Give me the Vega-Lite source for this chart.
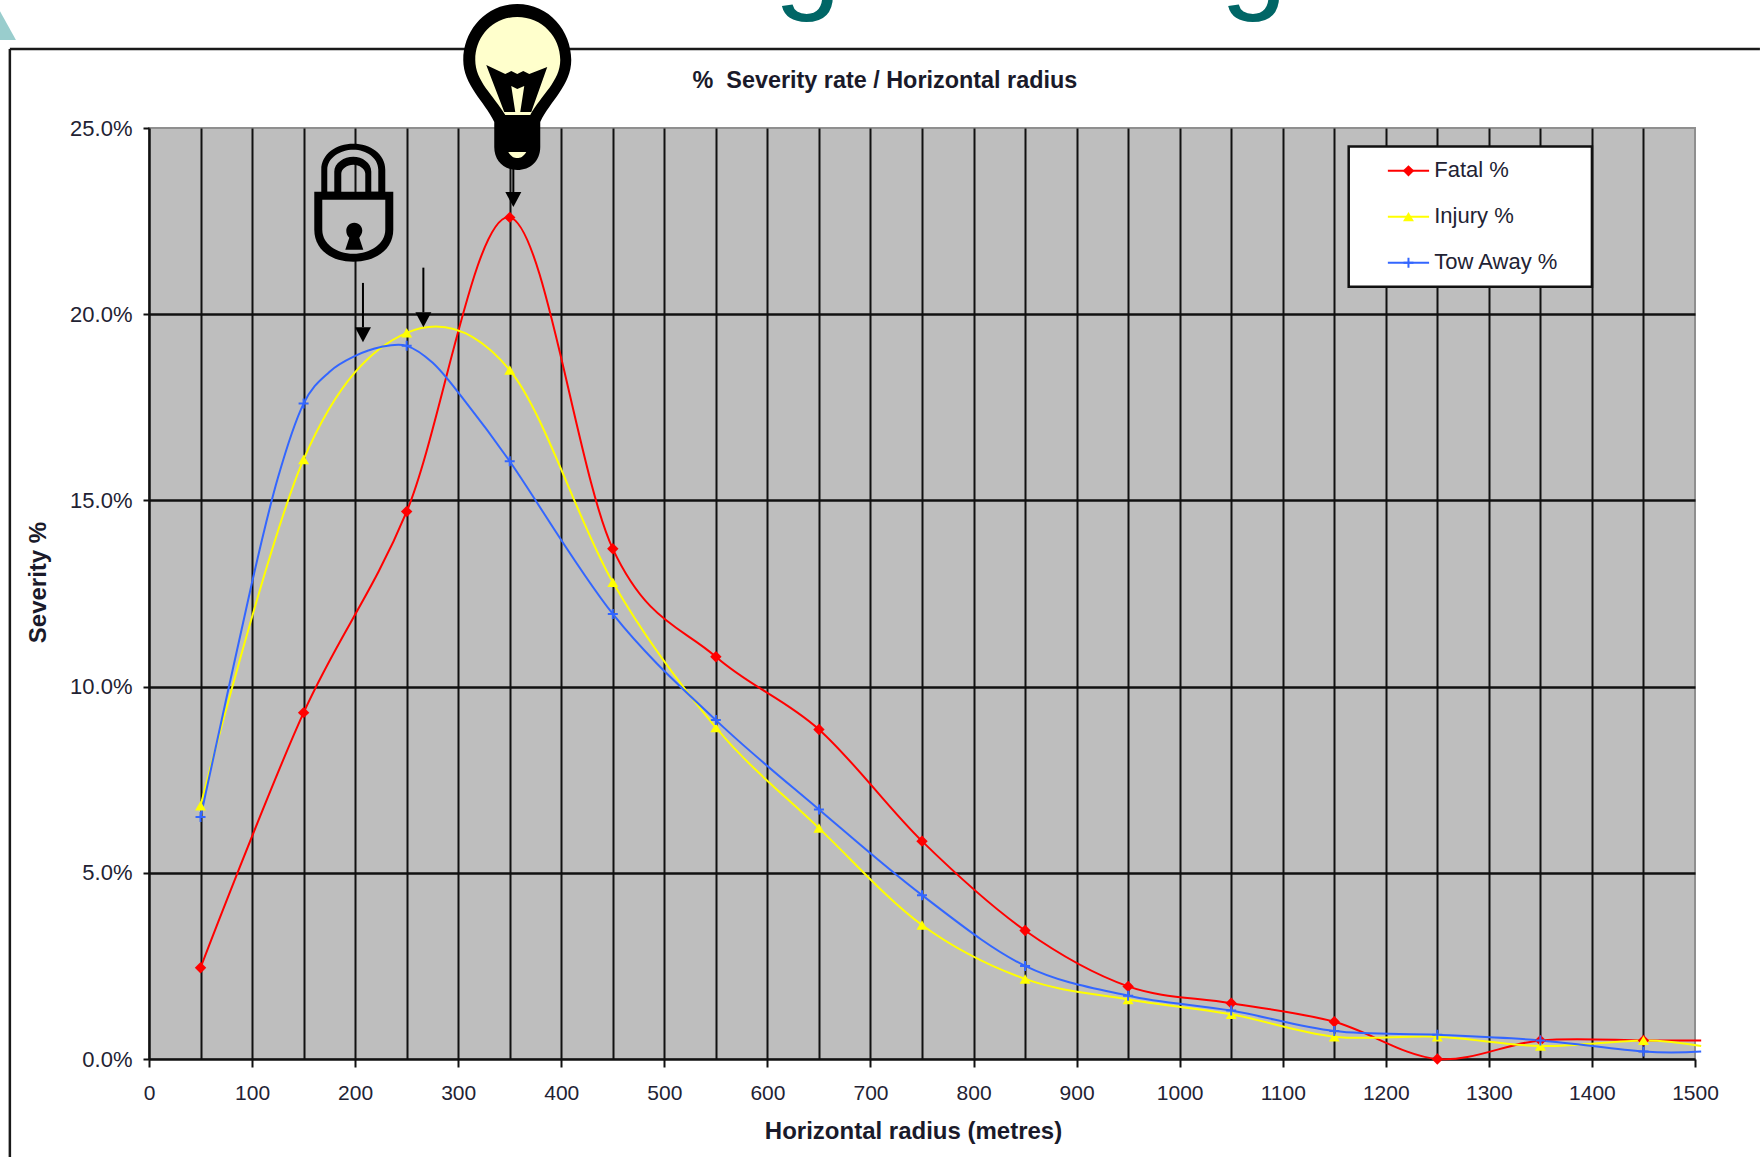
{
  "$schema": "https://vega.github.io/schema/vega-lite/v6.json",
  "autosize": "none",
  "width": 1546,
  "height": 931,
  "padding": {"left": 149, "top": 128, "right": 65, "bottom": 98},
  "background": "#ffffff",
  "config": {
    "view": {"fill": "#bebebe", "stroke": "#8f8f8f", "strokeWidth": 2},
    "text": {"font": "Liberation Sans"}
  },
  "datasets": {
    "severity": [
      {"radius": 50, "severity": 0.0245, "series": "Fatal %"},
      {"radius": 150, "severity": 0.093, "series": "Fatal %"},
      {"radius": 250, "severity": 0.147, "series": "Fatal %"},
      {"radius": 350, "severity": 0.226, "series": "Fatal %"},
      {"radius": 450, "severity": 0.137, "series": "Fatal %"},
      {"radius": 550, "severity": 0.108, "series": "Fatal %"},
      {"radius": 650, "severity": 0.0885, "series": "Fatal %"},
      {"radius": 750, "severity": 0.0585, "series": "Fatal %"},
      {"radius": 850, "severity": 0.0345, "series": "Fatal %"},
      {"radius": 950, "severity": 0.0195, "series": "Fatal %"},
      {"radius": 1050, "severity": 0.015, "series": "Fatal %"},
      {"radius": 1150, "severity": 0.01, "series": "Fatal %"},
      {"radius": 1250, "severity": 0.0, "series": "Fatal %"},
      {"radius": 1350, "severity": 0.005, "series": "Fatal %"},
      {"radius": 1450, "severity": 0.005, "series": "Fatal %"},
      {"radius": 1506, "severity": 0.005, "series": "Fatal %"},
      {"radius": 50, "severity": 0.068, "series": "Injury %"},
      {"radius": 150, "severity": 0.161, "series": "Injury %"},
      {"radius": 250, "severity": 0.195, "series": "Injury %"},
      {"radius": 350, "severity": 0.185, "series": "Injury %"},
      {"radius": 450, "severity": 0.128, "series": "Injury %"},
      {"radius": 550, "severity": 0.089, "series": "Injury %"},
      {"radius": 650, "severity": 0.062, "series": "Injury %"},
      {"radius": 750, "severity": 0.036, "series": "Injury %"},
      {"radius": 850, "severity": 0.0215, "series": "Injury %"},
      {"radius": 950, "severity": 0.016, "series": "Injury %"},
      {"radius": 1050, "severity": 0.012, "series": "Injury %"},
      {"radius": 1150, "severity": 0.006, "series": "Injury %"},
      {"radius": 1250, "severity": 0.006, "series": "Injury %"},
      {"radius": 1350, "severity": 0.0035, "series": "Injury %"},
      {"radius": 1450, "severity": 0.005, "series": "Injury %"},
      {"radius": 1506, "severity": 0.0035, "series": "Injury %"},
      {"radius": 50, "severity": 0.065, "series": "Tow Away %"},
      {"radius": 100, "severity": 0.128, "series": "Tow Away %"},
      {"radius": 125, "severity": 0.156, "series": "Tow Away %"},
      {"radius": 150, "severity": 0.176, "series": "Tow Away %"},
      {"radius": 175, "severity": 0.1845, "series": "Tow Away %"},
      {"radius": 200, "severity": 0.1888, "series": "Tow Away %"},
      {"radius": 225, "severity": 0.1912, "series": "Tow Away %"},
      {"radius": 250, "severity": 0.1915, "series": "Tow Away %"},
      {"radius": 275, "severity": 0.187, "series": "Tow Away %"},
      {"radius": 300, "severity": 0.179, "series": "Tow Away %"},
      {"radius": 350, "severity": 0.1605, "series": "Tow Away %"},
      {"radius": 450, "severity": 0.1195, "series": "Tow Away %"},
      {"radius": 550, "severity": 0.091, "series": "Tow Away %"},
      {"radius": 650, "severity": 0.067, "series": "Tow Away %"},
      {"radius": 750, "severity": 0.044, "series": "Tow Away %"},
      {"radius": 850, "severity": 0.025, "series": "Tow Away %"},
      {"radius": 950, "severity": 0.017, "series": "Tow Away %"},
      {"radius": 1050, "severity": 0.013, "series": "Tow Away %"},
      {"radius": 1150, "severity": 0.0075, "series": "Tow Away %"},
      {"radius": 1250, "severity": 0.0065, "series": "Tow Away %"},
      {"radius": 1350, "severity": 0.005, "series": "Tow Away %"},
      {"radius": 1450, "severity": 0.002, "series": "Tow Away %"},
      {"radius": 1506, "severity": 0.002, "series": "Tow Away %"}
    ],
    "arrows": [
      {"radius": 207.6, "radius2": 207.6, "severity": 0.2084, "severity2": 0.1965},
      {"radius": 266.2, "radius2": 266.2, "severity": 0.2125, "severity2": 0.2005},
      {"radius": 353.5, "radius2": 353.5, "severity": 0.2390, "severity2": 0.2310}
    ],
    "arrowTips": [
      {"radius": 207.6, "severity": 0.1925},
      {"radius": 266.2, "severity": 0.1965},
      {"radius": 353.5, "severity": 0.2288}
    ],
    "bulb": [{"radius": 357.3, "severity": 0.261}],
    "lock": [{"radius": 198.2, "severity": 0.2302}],
    "legendBox": [{"radius": 1164, "radius2": 1400, "severity": 0.245, "severity2": 0.2074}],
    "legendRows": [
      {"radius": 1202, "radius2": 1242, "mid": 1222, "text": 1247, "severity": 0.2385, "series": "Fatal %"},
      {"radius": 1202, "radius2": 1242, "mid": 1222, "text": 1247, "severity": 0.2262, "series": "Injury %"},
      {"radius": 1202, "radius2": 1242, "mid": 1222, "text": 1247, "severity": 0.2138, "series": "Tow Away %"}
    ],
    "sheetFrameTop": [{"radius": -135, "radius2": 1563, "severity": 0.2712}],
    "sheetFrameLeft": [{"radius": -135, "severity": 0.2712, "severity2": -0.0263}],
    "cornerMark": [{"radius": -144.6, "severity": 0.2736}],
    "headingGlyphs": [
      {"radius": 639, "severity": 0.2852, "glyph": "g"},
      {"radius": 1072, "severity": 0.2852, "glyph": "g"}
    ],
    "chartHeading": [{"radius": 714, "severity": 0.2626, "label": "%\u00a0 Severity rate / Horizontal radius"}]
  },
  "encoding": {
    "x": {
      "field": "radius",
      "type": "quantitative",
      "scale": {"domain": [0, 1500], "nice": false, "zero": false},
      "axis": {
        "title": "Horizontal radius (metres)",
        "titleFont": "Liberation Sans",
        "titleFontSize": 24,
        "titleFontWeight": "bold",
        "titleColor": "#1a1a2a",
        "titleX": 764,
        "titleY": 60,
        "titleAlign": "center",
        "values": [0, 50, 100, 150, 200, 250, 300, 350, 400, 450, 500, 550, 600, 650, 700, 750, 800, 850, 900, 950, 1000, 1050, 1100, 1150, 1200, 1250, 1300, 1350, 1400, 1450, 1500],
        "format": "d",
        "labelExpr": "datum.value % 100 === 0 ? datum.label : ''",
        "labelOverlap": false,
        "labelFont": "Liberation Sans",
        "labelFontSize": 21,
        "labelColor": "#222233",
        "labelPadding": 15,
        "labelFlush": false,
        "grid": true,
        "gridColor": "#111111",
        "gridWidth": 2,
        "gridOpacity": {"expr": "datum.value > 0 && datum.value < 1500 ? 1 : 0"},
        "domainColor": "#111111",
        "domainWidth": 2.5,
        "tickColor": "#111111",
        "tickWidth": 2,
        "tickSize": 8,
        "tickOpacity": {"expr": "datum.value % 100 === 0 ? 1 : 0"}
      }
    },
    "y": {
      "field": "severity",
      "type": "quantitative",
      "scale": {"domain": [0, 0.25], "nice": false, "zero": false},
      "axis": {
        "title": "Severity %",
        "titleFont": "Liberation Sans",
        "titleFontSize": 24,
        "titleFontWeight": "bold",
        "titleColor": "#1a1a2a",
        "titleX": -99,
        "titleY": 454,
        "titleAlign": "center",
        "values": [0, 0.05, 0.1, 0.15, 0.2, 0.25],
        "format": ".1%",
        "labelFont": "Liberation Sans",
        "labelFontSize": 22,
        "labelColor": "#222233",
        "labelPadding": 11,
        "grid": true,
        "gridColor": "#111111",
        "gridWidth": 2.5,
        "gridOpacity": {"expr": "datum.value > 0 && datum.value < 0.25 ? 1 : 0"},
        "domainColor": "#111111",
        "domainWidth": 2.5,
        "tickColor": "#111111",
        "tickWidth": 2,
        "tickSize": 6
      }
    }
  },
  "layer": [
    {
      "data": {"name": "sheetFrameTop"},
      "mark": {"type": "rule", "color": "#1a1a1a", "strokeWidth": 2.5},
      "encoding": {"x2": {"field": "radius2"}}
    },
    {
      "data": {"name": "sheetFrameLeft"},
      "mark": {"type": "rule", "color": "#1a1a1a", "strokeWidth": 2.5},
      "encoding": {"y2": {"field": "severity2"}}
    },
    {
      "data": {"name": "cornerMark"},
      "mark": {"type": "point", "filled": true, "opacity": 1, "size": 4, "color": "#99cdcd", "shape": "M0,0 L16,0 L0,-29 Z"}
    },
    {
      "data": {"name": "headingGlyphs"},
      "mark": {"type": "text", "font": "Liberation Sans", "fontSize": 120, "color": "#006666", "align": "center", "baseline": "alphabetic"},
      "encoding": {"text": {"field": "glyph"}}
    },
    {
      "data": {"name": "chartHeading"},
      "mark": {"type": "text", "font": "Liberation Sans", "fontSize": 23.4, "fontWeight": "bold", "color": "#1a1a2a", "align": "center", "baseline": "middle"},
      "encoding": {"text": {"field": "label"}}
    },
    {
      "data": {"name": "severity"},
      "mark": {"type": "line", "interpolate": "cardinal", "tension": 0, "strokeWidth": 2},
      "encoding": {
        "color": {
          "field": "series",
          "type": "nominal",
          "scale": {"domain": ["Fatal %", "Injury %", "Tow Away %"], "range": ["#ff0000", "#ffff00", "#3366ff"]},
          "legend": null
        }
      }
    },
    {
      "data": {"name": "severity"},
      "transform": [{"filter": "datum.radius % 100 === 50 && datum.radius < 1500"}],
      "mark": {"type": "point", "filled": true, "opacity": 1, "strokeWidth": 0},
      "encoding": {
        "color": {"field": "series", "type": "nominal", "legend": null},
        "shape": {
          "field": "series",
          "type": "nominal",
          "scale": {"domain": ["Fatal %", "Injury %", "Tow Away %"], "range": ["diamond", "triangle-up", "M-1,-5 L1,-5 L1,-1 L5,-1 L5,1 L1,1 L1,5 L-1,5 L-1,1 L-5,1 L-5,-1 L-1,-1 Z"]},
          "legend": null
        },
        "size": {
          "field": "series",
          "type": "nominal",
          "scale": {"type": "ordinal", "domain": ["Fatal %", "Injury %", "Tow Away %"], "range": [130, 120, 4]},
          "legend": null
        }
      }
    },
    {
      "data": {"name": "arrows"},
      "mark": {"type": "rule", "color": "#000000", "strokeWidth": 2},
      "encoding": {"y2": {"field": "severity2"}}
    },
    {
      "data": {"name": "arrowTips"},
      "mark": {"type": "point", "filled": true, "opacity": 1, "size": 4, "color": "#000000", "shape": "M0,0 L-8,-15 L8,-15 Z"}
    },
    {
      "data": {"name": "bulb"},
      "mark": {"type": "point", "filled": true, "opacity": 1, "size": 4, "color": "#000000", "shape": "M0,-83 C32,-83 54,-56 54,-27 C54,-2 33,14 23,35 L23,60 C23,74 13,83 0,83 C-13,83 -23,74 -23,60 L-23,35 C-33,14 -54,-2 -54,-27 C-54,-56 -32,-83 0,-83 Z"}
    },
    {
      "data": {"name": "bulb"},
      "mark": {"type": "point", "filled": true, "opacity": 1, "size": 4, "color": "#ffffcc", "shape": "M0,-70 C25,-70 43,-50 43,-27 C43,-6 24,8 13,28 L-12,28 C-24,8 -42,-6 -42,-27 C-42,-50 -25,-70 0,-70 Z"}
    },
    {
      "data": {"name": "bulb"},
      "mark": {"type": "point", "filled": true, "opacity": 1, "size": 4, "color": "#000000", "shape": "M-31,-22 L-12,-13 L-6,-16 L0,-13 L6,-16 L12,-13 L30,-20 L14,25 L-13,25 Z"}
    },
    {
      "data": {"name": "bulb"},
      "mark": {"type": "point", "filled": true, "opacity": 1, "size": 4, "color": "#ffffcc", "shape": "M-6,-1 L0,2 L7,-1 L3,25 L-2,25 Z"}
    },
    {
      "data": {"name": "bulb"},
      "mark": {"type": "point", "filled": true, "opacity": 1, "size": 4, "color": "#ffffcc", "shape": "M-9,65 L9,65 C6,70 3,71 0,71 C-3,71 -6,70 -9,65 Z"}
    },
    {
      "data": {"name": "lock"},
      "mark": {"type": "point", "filled": true, "opacity": 1, "size": 4, "color": "#000000", "shape": "M-32,-8 L-32,-32 C-32,-48 -17,-58 0,-58 C17,-58 32,-48 32,-32 L32,-8 Z M-12,-8 L12,-8 L12,-28 C12,-33 6,-37 0,-37 C-6,-37 -12,-33 -12,-28 Z"}
    },
    {
      "data": {"name": "lock"},
      "mark": {"type": "point", "filled": true, "opacity": 1, "size": 4, "color": "#bebebe", "shape": "M-26,-10 L-26,-32 C-26,-44 -13,-52 0,-52 C13,-52 25,-44 25,-32 L25,-10 L18,-10 L18,-30 C18,-39 9,-45 0,-45 C-9,-45 -19,-39 -19,-30 L-19,-10 Z"}
    },
    {
      "data": {"name": "lock"},
      "mark": {"type": "point", "filled": true, "opacity": 1, "size": 4, "color": "#000000", "shape": "M-39,-10 L40,-10 L40,28 C40,48 22,60 0,60 C-22,60 -39,48 -39,28 Z"}
    },
    {
      "data": {"name": "lock"},
      "mark": {"type": "point", "filled": true, "opacity": 1, "size": 4, "color": "#bebebe", "shape": "M-31,-2 L32,-2 L32,28 C32,42 17,52 0,52 C-17,52 -31,42 -31,28 Z"}
    },
    {
      "data": {"name": "lock"},
      "mark": {"type": "point", "filled": true, "opacity": 1, "size": 4, "color": "#000000", "shape": "M1,21 C6,21 9,25 9,29 C9,32 7,34 6,36 L10,48 L-8,48 L-4,36 C-6,34 -7,32 -7,29 C-7,25 -4,21 1,21 Z"}
    },
    {
      "data": {"name": "legendBox"},
      "mark": {"type": "rect", "fill": "#ffffff", "stroke": "#111111", "strokeWidth": 2.5},
      "encoding": {"x2": {"field": "radius2"}, "y2": {"field": "severity2"}}
    },
    {
      "data": {"name": "legendRows"},
      "mark": {"type": "rule", "strokeWidth": 2},
      "encoding": {
        "x2": {"field": "radius2"},
        "color": {"field": "series", "type": "nominal", "legend": null}
      }
    },
    {
      "data": {"name": "legendRows"},
      "mark": {"type": "point", "filled": true, "opacity": 1, "strokeWidth": 0},
      "encoding": {
        "x": {"field": "mid", "type": "quantitative"},
        "color": {"field": "series", "type": "nominal", "legend": null},
        "shape": {"field": "series", "type": "nominal", "legend": null},
        "size": {
          "field": "series",
          "type": "nominal",
          "scale": {"type": "ordinal", "domain": ["Fatal %", "Injury %", "Tow Away %"], "range": [130, 120, 4]},
          "legend": null
        }
      }
    },
    {
      "data": {"name": "legendRows"},
      "mark": {"type": "text", "font": "Liberation Sans", "fontSize": 22, "color": "#222233", "align": "left", "baseline": "middle", "dy": -1},
      "encoding": {
        "x": {"field": "text", "type": "quantitative"},
        "text": {"field": "series"}
      }
    }
  ]
}
